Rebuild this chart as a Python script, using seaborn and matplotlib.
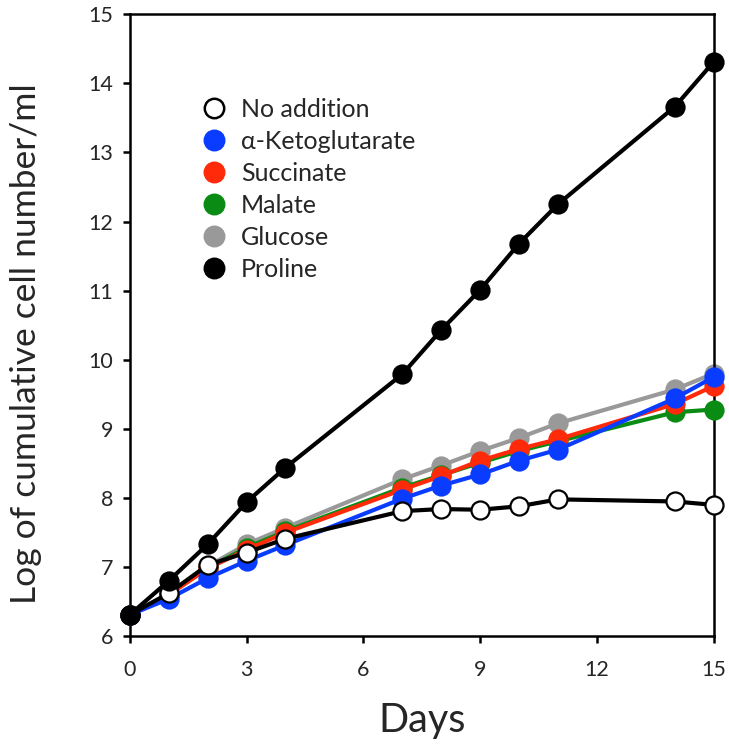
import matplotlib
matplotlib.use("Agg")
import matplotlib.pyplot as plt
import seaborn as sns
import pandas as pd
from matplotlib.lines import Line2D

days = [0, 1, 2, 3, 4, 7, 8, 9, 10, 11, 14, 15]
no_addition = [6.31, 6.62, 7.03, 7.21, 7.41, 7.81, 7.84, 7.83, 7.88, 7.98, 7.95, 7.90]
ketoglutarate = [6.31, 6.54, 6.84, 7.09, 7.32, 7.99, 8.18, 8.34, 8.54, 8.70, 9.44, 9.75]
succinate = [6.31, 6.60, 6.98, 7.25, 7.50, 8.12, 8.32, 8.54, 8.71, 8.85, 9.36, 9.62]
malate = [6.31, 6.60, 6.99, 7.28, 7.52, 8.15, 8.33, 8.51, 8.68, 8.82, 9.24, 9.28]
glucose = [6.31, 6.62, 7.01, 7.33, 7.57, 8.27, 8.47, 8.68, 8.87, 9.08, 9.57, 9.80]
proline = [6.31, 6.80, 7.33, 7.94, 8.44, 9.79, 10.43, 11.01, 11.68, 12.25, 13.66, 14.31]

series_names = ["No addition", "α-Ketoglutarate", "Succinate", "Malate", "Glucose", "Proline"]
series_values = [no_addition, ketoglutarate, succinate, malate, glucose, proline]
face_colors = ["white", "#0a3cff", "#ff2a0a", "#0a8c14", "#999999", "black"]
line_colors = ["black", "#0a3cff", "#ff2a0a", "#0a8c14", "#999999", "black"]
edge_colors = ["black", "#0a3cff", "#ff2a0a", "#0a8c14", "#999999", "black"]

x_ticks = [0, 3, 6, 9, 12, 15]
y_ticks = [6, 7, 8, 9, 10, 11, 12, 13, 14, 15]

sns.set_theme(style="white")
plt.rcParams["font.family"] = ["Lato", "DejaVu Sans"]

fig = plt.figure(figsize=(7.29, 7.45), dpi=100)
ax = fig.add_axes([0.178, 0.146, 0.801, 0.835])

draw_order = [4, 3, 2, 1, 0, 5]
zorders = {4: 2, 3: 3, 2: 4, 1: 5, 0: 6, 5: 7}
for i in draw_order:
    df = pd.DataFrame({"day": days, "val": series_values[i]})
    sns.lineplot(data=df, x="day", y="val", ax=ax, color=line_colors[i],
                 linewidth=3, marker="o", markersize=13,
                 markerfacecolor=face_colors[i], markeredgecolor=edge_colors[i],
                 markeredgewidth=1.6, zorder=zorders[i], legend=False,
                 clip_on=False)

ax.set_xlim(0, 15)
ax.set_ylim(6, 15)
ax.set_xticks(x_ticks)
ax.set_yticks(y_ticks)
ax.set_xticklabels([str(t) for t in x_ticks], fontsize=15.5)
ax.set_yticklabels([str(t) for t in y_ticks], fontsize=15.5)
ax.tick_params(axis="both", direction="out", length=5, width=1.8, color="black",
               left=True, bottom=True)
ax.tick_params(axis="x", pad=12)
ax.tick_params(axis="y", pad=7)
for s in ax.spines.values():
    s.set_color("black")
    s.set_linewidth(1.8)

ax.set_xlabel("Days", fontsize=28.5, labelpad=16)
ax.set_ylabel("Log of cumulative cell number/ml", fontsize=25.5, labelpad=33)
ax.yaxis.label.set_y(0.47)

handles = [Line2D([0], [0], linestyle="none", marker="o", markersize=14,
                  markerfacecolor=face_colors[i], markeredgecolor=edge_colors[i],
                  markeredgewidth=1.8) for i in range(len(series_names))]
leg = ax.legend(handles, series_names, loc="upper left", bbox_to_anchor=(0.105, 0.882),
                frameon=False, fontsize=18, handletextpad=0.6, labelspacing=0.36,
                borderaxespad=0, handlelength=1.0)

fig.savefig("out.png", dpi=100)
